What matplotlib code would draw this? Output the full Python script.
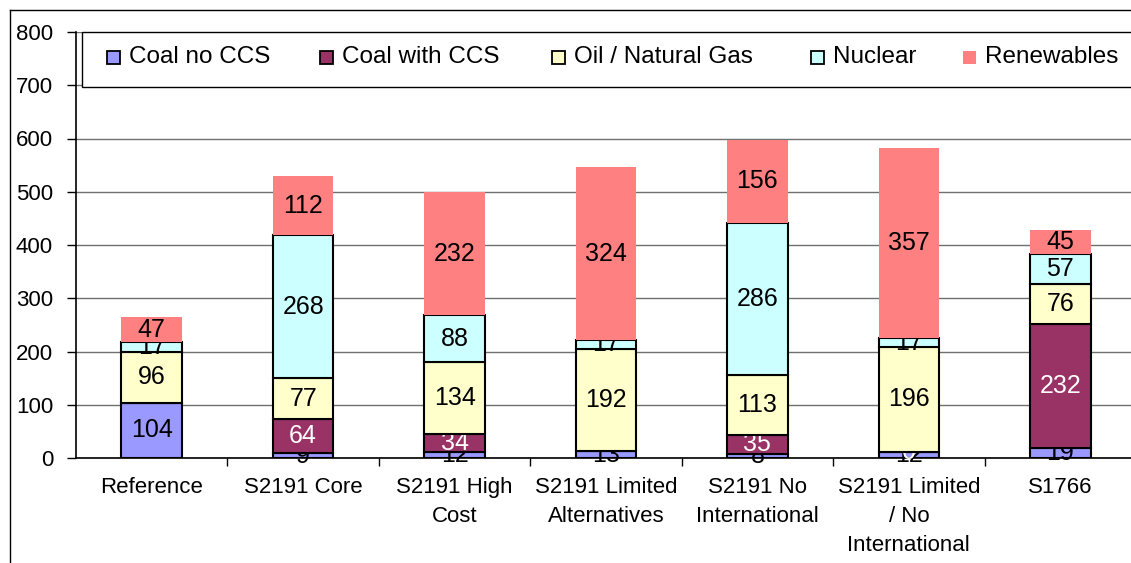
import numpy as np
import matplotlib.pyplot as plt
from matplotlib.lines import Line2D
from matplotlib.patches import Rectangle

categories = ["Reference", "S2191 Core", "S2191 High\nCost", "S2191 Limited\nAlternatives",
              "S2191 No\nInternational", "S2191 Limited\n/ No\nInternational", "S1766"]
series = ["Coal no CCS", "Coal with CCS", "Oil / Natural Gas", "Nuclear", "Renewables"]
coal_no_ccs = [104, 9, 12, 13, 8, 12, 19]
coal_ccs = [np.nan, 64, 34, np.nan, 35, 0, 232]
oil_gas = [96, 77, 134, 192, 113, 196, 76]
nuclear = [17, 268, 88, 17, 286, 17, 57]
renewables = [47, 112, 232, 324, 156, 357, 45]

colors = ["#9999FF", "#993366", "#FFFFCC", "#CCFFFF", "#FF8080"]
edges = ["black", "black", "black", "black", "none"]
label_colors = ["black", "white", "black", "black", "black"]

plt.rcParams['font.family'] = ['Liberation Sans', 'DejaVu Sans']

W, H = 1131, 563
fig = plt.figure(figsize=(W / 100, H / 100), dpi=100)
# plot area in pixels: left 76, width 1060, bottom y 458, top y 32
ax = fig.add_axes([76 / W, 105 / H, 1060 / W, 426 / H])

x = np.arange(len(categories))
bottom = np.zeros(len(categories))
for name, vals, c, ec, lc in zip(series, [coal_no_ccs, coal_ccs, oil_gas, nuclear, renewables],
                                 colors, edges, label_colors):
    vals = np.array(vals, dtype=float)
    h = np.nan_to_num(vals)
    bars = ax.bar(x, h, 0.4, bottom=bottom, color=c, edgecolor=ec, linewidth=1.5,
                  label=name, zorder=3)
    labels = ["" if np.isnan(v) else f"{int(v)}" for v in vals]
    ax.bar_label(bars, labels=labels, label_type='center', color=lc, fontsize=18)
    bottom += h

ax.set_xlim(-0.5, len(categories) - 0.5)
ax.set_ylim(0, 800)
ax.set_yticks(range(0, 801, 100))
ax.yaxis.grid(True, color='#707070', linewidth=1, zorder=0)
ax.set_axisbelow(True)
ax.tick_params(axis='y', labelsize=16, length=6.5, width=1, pad=10)
ax.set_xticks(x)
ax.set_xticklabels(categories, fontsize=16, linespacing=1.5, va='top')
ax.set_xticks(np.arange(0.5, len(categories) - 1), minor=True)
ax.tick_params(axis='x', which='major', length=0, pad=14)
ax.tick_params(axis='x', which='minor', length=6, width=1)
for s in ['top', 'right']:
    ax.spines[s].set_visible(False)
for s in ['left', 'bottom']:
    ax.spines[s].set_linewidth(1.2)

# legend box drawn by hand so the entries sit where the reference has them
def px(xp):
    return (xp - 76) / 1060

def py(yp):
    return (458 - yp) / 426

ax.add_patch(Rectangle((px(82), py(87)), px(1160) - px(82), py(32) - py(87),
                       transform=ax.transAxes, facecolor='white', edgecolor='black',
                       linewidth=1, zorder=5, clip_on=False))
marker_x = [107, 320, 552, 811, 963]
for mx, name, c, ec in zip(marker_x, series, colors, edges):
    ax.add_patch(Rectangle((px(mx), py(64)), px(mx + 13) - px(mx), py(51) - py(64),
                           transform=ax.transAxes, facecolor=c, edgecolor=ec,
                           linewidth=1.3, zorder=6, clip_on=False))
    ax.text(px(mx + 22), py(57), name, transform=ax.transAxes, fontsize=17.5,
            va='center', ha='left', zorder=7)

# chart area border
fig.add_artist(Line2D([10 / W, 10 / W], [0, 1 - 10 / H], color='black', linewidth=1))
fig.add_artist(Line2D([10 / W, 1], [1 - 10 / H, 1 - 10 / H], color='black', linewidth=1))

fig.savefig('out.png', dpi=100)
